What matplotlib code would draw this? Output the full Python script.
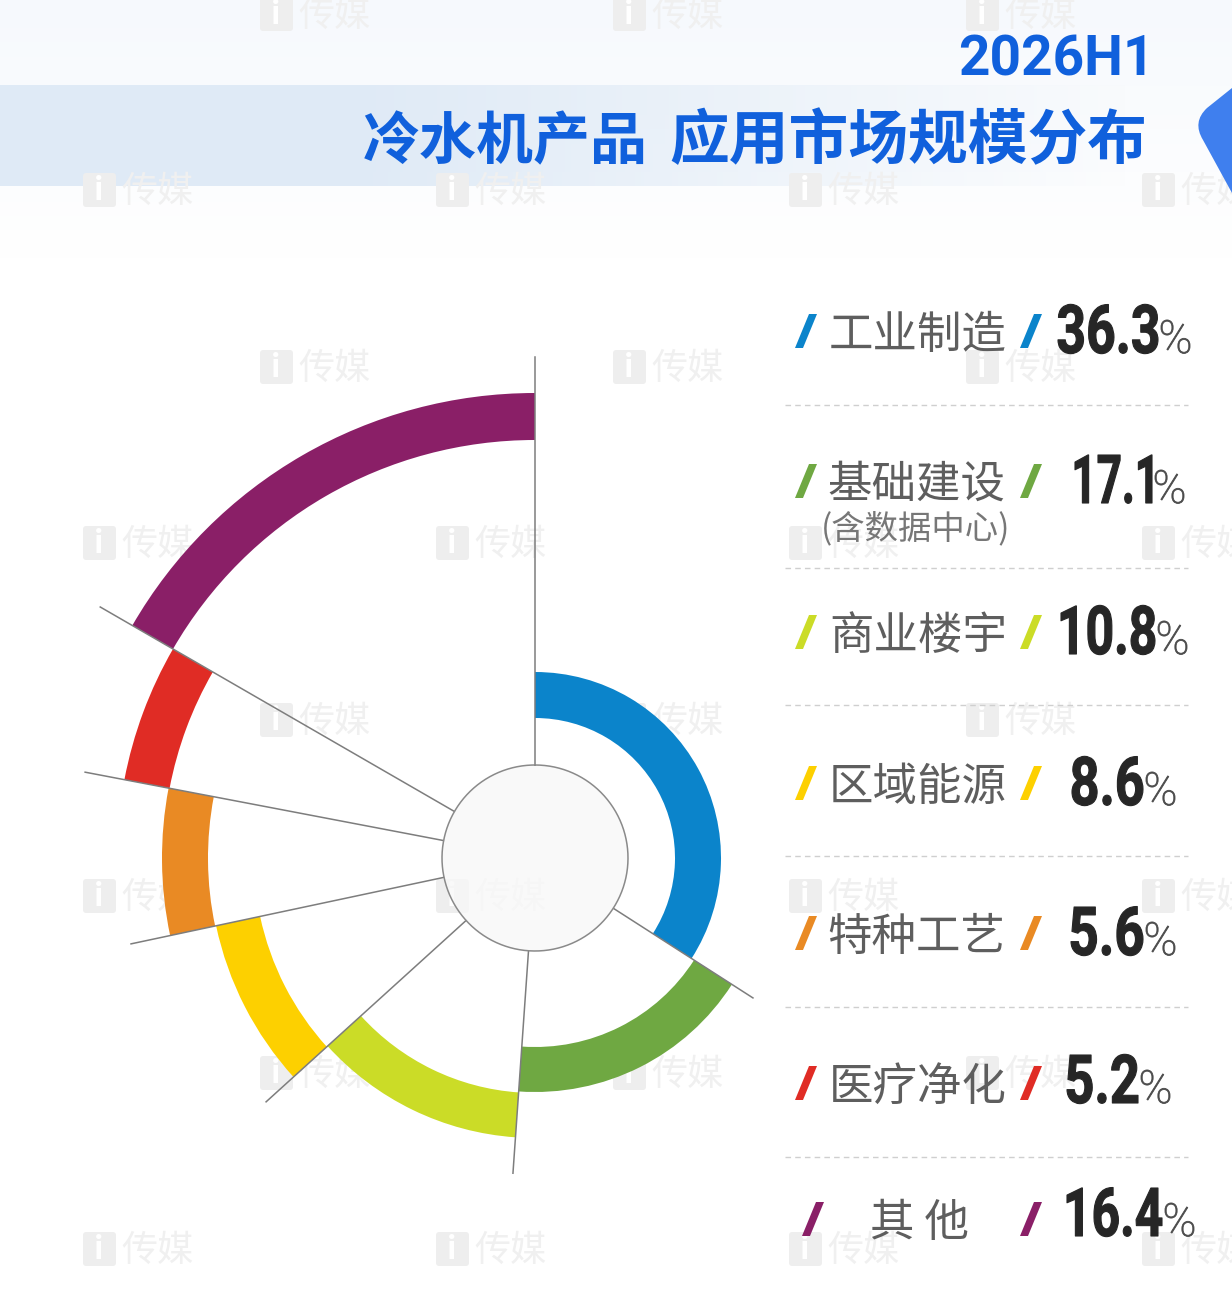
import numpy as np
import matplotlib
matplotlib.use('Agg')
import matplotlib.pyplot as plt
from matplotlib.colors import to_rgb
from matplotlib.patches import Polygon, PathPatch, FancyBboxPatch
from matplotlib.path import Path
from matplotlib.text import Text
from matplotlib.textpath import TextPath
from matplotlib.transforms import Affine2D, Bbox

plt.rcParams['font.family'] = ['Noto Sans CJK SC', 'DejaVu Sans']

labels = ['工业制造', '基础建设', '商业楼宇', '区域能源', '特种工艺', '医疗净化', '其 他']
shares = ['36.3', '17.1', '10.8', '8.6', '5.6', '5.2', '16.4']
colors = ['#0b84cb', '#6fa842', '#cbdc27', '#fdd000', '#e98a24', '#e02c25', '#8a1f67']

# the arcs in the picture do not quite follow the percentages, so read off as drawn
arc_start = [0, 122.7, 184, 227.8, 258, 280.8, 300]
arc_end = [122.7, 184, 227.8, 258, 280.8, 300, 360]
arc_inner = [140, 189, 235, 281, 327, 372, 418]
arc_outer = [186, 234, 280, 326, 373, 418, 465]
line_angle = [0, 122.7, 184, 227.8, 258, 280.8, 300]
line_end = [501, 259, 316, 363, 413, 458, 502]
hub_r = 93

W, H = 1232, 1302


class FittedText(Text):
    # no condensed font installed, so squeeze the glyphs to fit between two x positions
    def __init__(self, x0, x1, y, s, stroke=0, **kw):
        super().__init__(x1, y, s, **kw)
        self.x0, self.x1, self.stroke = x0, x1, stroke

    def get_window_extent(self, renderer=None, dpi=None):
        a = self.get_transform().transform((self.x0, self.get_position()[1]))
        b = self.get_transform().transform((self.x1, self.get_position()[1]))
        h = self.get_fontsize() * self.figure.dpi / 72 * 0.72
        return Bbox([[a[0], a[1]], [b[0], a[1] + h]])

    def draw(self, renderer):
        tp = TextPath((0, 0), self.get_text(), size=self.get_fontsize(), prop=self.get_fontproperties())
        ext = tp.get_extents()
        left, base = self.get_transform().transform((self.x0, self.get_position()[1]))
        right = self.get_transform().transform((self.x1, self.get_position()[1]))[0]
        sx = (right - left) / ext.width
        tr = Affine2D().translate(-ext.x0, 0).scale(sx, self.figure.dpi / 72).translate(left, base)
        gc = renderer.new_gc()
        gc.set_foreground(self.get_color())
        gc.set_linewidth(self.stroke)
        renderer.draw_path(gc, tp, tr, to_rgb(self.get_color()))
        gc.restore()


fig = plt.figure(figsize=(W / 100, H / 100), dpi=100, facecolor='white')

# pixel space overlay for banner, text and so on
bg = fig.add_axes([0, 0, 1, 1], zorder=0)
bg.axis('off')

top = np.ones((260, 1, 4))
top[:, 0, 0] = 0.965
top[:, 0, 1] = 0.98
top[:, 0, 2] = 0.995
top[:, 0, 3] = np.linspace(1, 0, 260)
bg.imshow(top, extent=[0, W, 260, 0], aspect='auto', zorder=0)

band = np.ones((1, 400, 4))
band[0, :, 0] = 0.875
band[0, :, 1] = 0.92
band[0, :, 2] = 0.965
band[0, :, 3] = np.clip(np.linspace(1.45, 0, 400), 0, 1)
bg.imshow(band, extent=[0, 1130, 186, 85], aspect='auto', zorder=1)
bg.set_xlim(0, W)
bg.set_ylim(H, 0)

# watermark
for wy, xs in [(14, [260, 613, 966]), (190, [83, 436, 789, 1142]), (367, [260, 613, 966]),
               (543, [83, 436, 789, 1142]), (720, [260, 613, 966]), (896, [83, 436, 789, 1142]),
               (1073, [260, 613, 966]), (1249, [83, 436, 789, 1142])]:
    for wx in xs:
        bg.add_patch(FancyBboxPatch((wx + 3, wy - 14), 27, 28, boxstyle='round,pad=3', fc='#eeeeee', ec='none', zorder=2))
        bg.text(wx + 16, wy + 1, 'i', color='white', fontsize=22, fontweight='bold', ha='center', va='center', zorder=2)
        bg.text(wx + 38, wy + 2, '传媒', color='#f0f0f0', fontsize=26, va='center', zorder=2)

# corner shape
corner = Path([(1232, 88), (1207, 108), (1192, 122), (1203, 140), (1232, 193), (1232, 88)],
              [Path.MOVETO, Path.LINETO, Path.CURVE3, Path.CURVE3, Path.LINETO, Path.CLOSEPOLY])
bg.add_patch(PathPatch(corner, fc='#3f7fee', ec='none', zorder=3))

# title
bg.text(1154, 75, '2026H1', color='#1060dc', fontsize=39.5, fontweight='bold', family=['Roboto', 'DejaVu Sans'],
        ha='right', va='baseline', zorder=5)
bg.text(648, 159, '冷水机产品', color='#1060dc', fontsize=41, fontweight='bold', ha='right', va='baseline', zorder=5)
bg.text(1147, 159, '应用市场规模分布', color='#1060dc', fontsize=43, fontweight='bold', ha='right', va='baseline', zorder=5)

# polar chart, centre at (535, 858)
rmax = 520
cx, cy = 535, 858
ax = fig.add_axes([(cx - rmax) / W, (H - cy - rmax) / H, 2 * rmax / W, 2 * rmax / H],
                  projection='polar', zorder=1)
ax.set_theta_zero_location('N')
ax.set_theta_direction(-1)
ax.set_rlim(0, rmax)
ax.axis('off')
ax.patch.set_visible(False)

for a0, a1, r0, r1, c in zip(arc_start, arc_end, arc_inner, arc_outer, colors):
    ax.bar(np.radians((a0 + a1) / 2), r1 - r0, width=np.radians(a1 - a0), bottom=r0, color=c,
           linewidth=0, zorder=2)

for ang, r in zip(line_angle, line_end):
    ax.plot([np.radians(ang)] * 2, [hub_r, r], color='#7d7d7d', lw=1.1, zorder=3, clip_on=False)

t = np.linspace(0, 2 * np.pi, 360)
ax.fill(t, np.full_like(t, hub_r), color='#f8f8f8', alpha=0.8, zorder=3, lw=0)
ax.plot(t, np.full_like(t, hub_r), color='#8a8a8a', lw=1.1, zorder=4)

# legend rows
row_y = [330, 480, 631, 782, 932, 1082, 1218]
num_left = [1058, 1075, 1061, 1072, 1071, 1067, 1067]
num_right = [1158, 1152, 1155, 1143, 1143, 1138, 1162]
num_base = [353, 503, 654, 805, 955, 1103, 1236]
dash_y = [405, 568, 705, 856, 1007, 1157]
slash_x = [795, 795, 795, 795, 795, 795, 802]
label_x = [829, 827, 829, 829, 827, 829, 920]

fg = fig.add_axes([0, 0, 1, 1], zorder=2)
fg.set_xlim(0, W)
fg.set_ylim(H, 0)
fg.axis('off')
fg.patch.set_visible(False)

for i in range(len(labels)):
    y = row_y[i]
    for sx in (slash_x[i], 1020):
        fg.add_patch(Polygon([(sx, y + 18), (sx + 8, y + 18), (sx + 22, y - 16), (sx + 14, y - 16)],
                             closed=True, fc=colors[i], ec='none'))
    ha = 'center' if i == 6 else 'left'
    fg.text(label_x[i], y, labels[i], color='#5e5e5e', fontsize=32, fontweight='medium', ha=ha, va='center_baseline')
    fg.add_artist(FittedText(num_left[i], num_right[i], num_base[i], shares[i], stroke=0.8, color='#262626',
                             fontsize=48.6, fontweight='bold', family='Roboto', transform=fg.transData))
    fg.add_artist(FittedText(num_right[i] + 3, num_right[i] + 32, num_base[i], '%', stroke=0.6, color='#4a4a4a',
                             fontsize=33, fontweight='light', family='Roboto', transform=fg.transData))

fg.text(916, 525, '(含数据中心)', color='#777777', fontsize=24, ha='center', va='center_baseline')

for y in dash_y:
    fg.plot([785, 1188], [y, y], color='#cfcfcf', lw=1, ls=(0, (4, 3)))

fig.savefig('out.png', dpi=100)
